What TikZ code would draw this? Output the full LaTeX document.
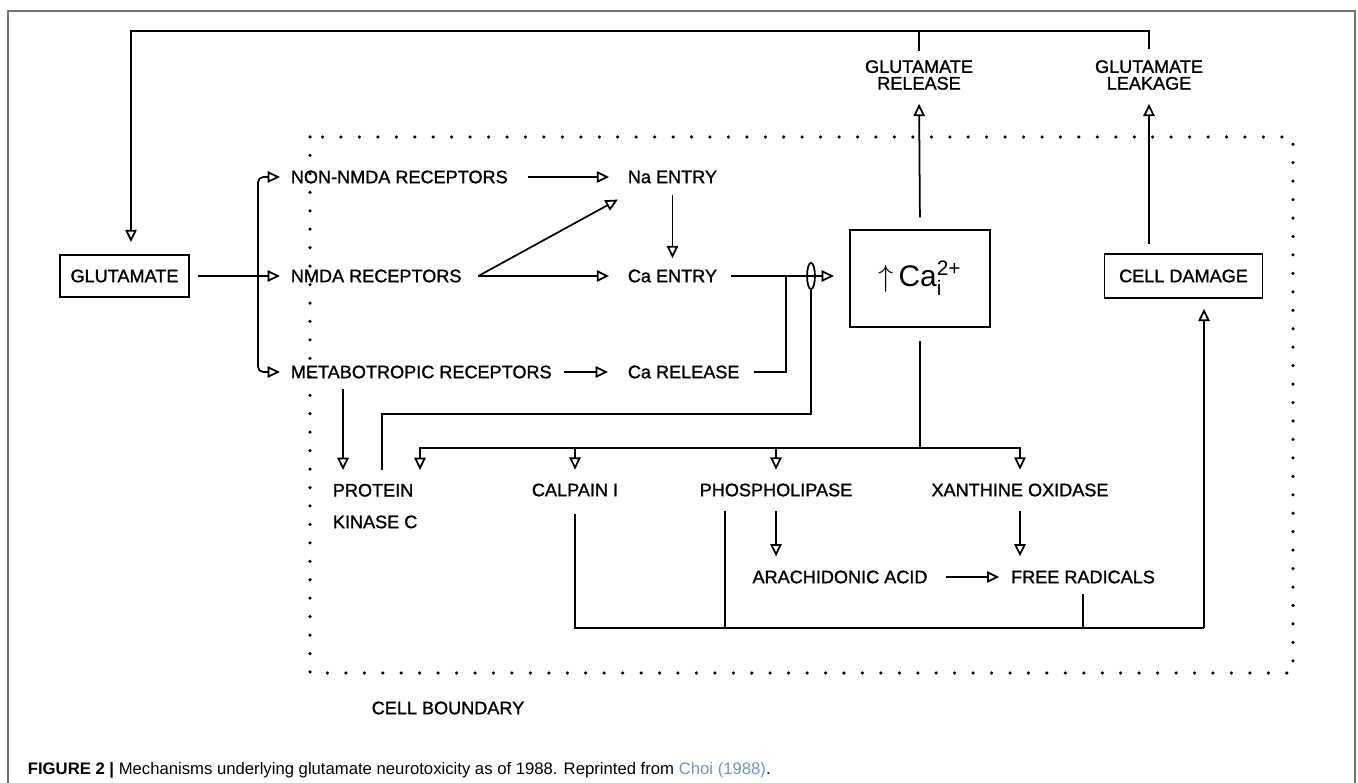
\documentclass[tikz,border=0pt]{standalone}
\usepackage{amsmath}
\usepackage{fontspec}
\usetikzlibrary{arrows.meta,calc,positioning,shapes.geometric}
\setmainfont{Liberation Sans}
\newfontfamily\plotfont[FakeBold=1.3]{Liberation Sans}
\definecolor{framegray}{gray}{0.45}
\definecolor{citeblue}{RGB}{110,150,195}

\begin{document}
\begin{tikzpicture}[x=0.02cm, y=-0.02cm, line width=1pt,
  lbl/.style={inner sep=0pt, font=\fontsize{10.3}{10}\plotfont},
  box/.style={draw, inner sep=0pt, font=\fontsize{10.3}{10}\plotfont},
  arr/.style={-{Triangle[open, length=7pt, width=6.5pt]}}]
\useasboundingbox (0,0) rectangle (1358,783);
% Rahmen und Zellgrenze
\draw[framegray, line width=0.8pt] (8,783) -- (8,11) -- (1355,11) -- (1355,783);
\draw[line width=2pt, line cap=round, dash pattern=on 0pt off 10.5pt] (310,137) rectangle (1293,673);
% Knoten
\node[box, minimum width=73pt, minimum height=24pt] (glut) at (124.5,276) {GLUTAMATE};
\node[lbl, anchor=west] (nonnmda) at (290,177) {NON-NMDA RECEPTORS};
\node[lbl, anchor=west] (nmda) at (290,276) {NMDA RECEPTORS};
\node[lbl, anchor=west] (metab) at (290,372) {METABOTROPIC RECEPTORS};
\node[lbl, anchor=west] (naentry) at (627,177) {Na ENTRY};
\node[lbl, anchor=west] (caentry) at (627,276) {Ca ENTRY};
\node[lbl, anchor=west] (carel) at (627,372) {Ca RELEASE};
\node[ellipse, draw, minimum width=4.5pt, minimum height=15pt, inner sep=0pt] (gate) at (811,276) {};
\node[box, minimum width=80pt, minimum height=55pt, font=\fontsize{17}{20}\selectfont] (ca) at (920,278.5) {$\uparrow$\,Ca$^{\text{2+}}_{\text{i}}$};
\node[box, minimum width=90pt, minimum height=25pt] (damage) at (1183.5,276) {CELL DAMAGE};
\node[lbl, align=center, font=\fontsize{10.3}{9.5}\plotfont] (rel) at (919,75) {GLUTAMATE\\RELEASE};
\node[lbl, align=center, font=\fontsize{10.3}{9.5}\plotfont] (leak) at (1149,75) {GLUTAMATE\\LEAKAGE};
\node[lbl, anchor=north west, align=left, font=\fontsize{10.3}{18}\plotfont] (pkc) at (332,483) {PROTEIN\\KINASE C};
\node[lbl] (calpain) at (575,490) {CALPAIN I};
\node[lbl] (phospho) at (776,490) {PHOSPHOLIPASE};
\node[lbl] (xanthine) at (1020,490) {XANTHINE OXIDASE};
\node[lbl] (arach) at (840,577) {ARACHIDONIC ACID};
\node[lbl] (radicals) at (1083,577) {FREE RADICALS};
\node[lbl] (bound) at (448,708) {CELL BOUNDARY};
\node[anchor=west, inner sep=0pt, font=\fontsize{9.5}{11}\selectfont] (cap) at (27,770)
  {\textbf{FIGURE 2 |} Mechanisms underlying glutamate neurotoxicity as of 1988. Reprinted from \textcolor{citeblue}{Choi (1988)}.};
% Rueckkopplung oben
\coordinate (topl) at (131,31);
\draw[arr, shorten <=6pt, shorten >=6.8pt] (leak.north) |- (topl) -- (topl |- glut.north);
\draw[shorten <=5pt] (rel.north) -- (rel.north |- topl);
\draw[arr, shorten <=6.8pt, shorten >=7.5pt] (ca.north) -- (rel.south);
\draw[arr, shorten <=5pt, shorten >=7.5pt] (leak.south |- damage.north) -- (leak.south);
% Rezeptoren
\coordinate (br) at (258,276);
\draw[arr, shorten <=5pt, shorten >=5.7pt] (glut) -- (nmda);
\draw[arr, rounded corners=3pt, shorten >=5.7pt] (br) |- (nonnmda.west);
\draw[arr, rounded corners=3pt, shorten >=5.7pt] (br) |- (metab.west);
\draw[arr, shorten <=11.3pt, shorten >=10.2pt] (nonnmda) -- (naentry);
\coordinate (nmdaout) at ($(nmda.east)+(16,0)$);
\draw[arr, shorten >=10.2pt] (nmdaout) -- (caentry.west);
\draw[arr, shorten >=4pt] (nmdaout) -- ($(naentry.south west)+(-3,12)$);
\draw[arr, shorten <=6pt, shorten >=6pt] (naentry) -- (caentry);
\draw[arr, shorten <=6.8pt, shorten >=10.8pt] (metab) -- (carel);
% Ca-Einstrom
\coordinate (join) at (786,276);
\draw[arr, shorten <=7.4pt, shorten >=8.5pt] (caentry.east) -- (caentry.east -| ca.west);
\draw[shorten <=7.9pt] (carel.east) -| (join);
\coordinate (pkcin) at ($(pkc.north west)+(50,-13)$);
\draw (gate.south) -- ++(0,124) -| (pkcin);
\coordinate (m1) at ($(metab.south west)+(53,0)$);
\draw[arr, shorten <=5.4pt, shorten >=7.4pt] (m1) -- (m1 |- pkc.north);
% Verteilung von Ca
\coordinate (bus) at ($(ca.south)+(0,120)$);
\draw[shorten <=7.4pt] (ca.south) -- (bus);
\draw[arr, shorten >=7.4pt] (bus) -| ($(pkc.north west)+(88,0)$);
\foreach \n in {calpain, phospho, xanthine}
  \draw[arr, shorten >=7.4pt] (bus) -| (\n.north);
\draw[arr, shorten <=7.6pt, shorten >=7.6pt] (phospho.south) -- (phospho.south |- arach.north);
\draw[arr, shorten <=7.6pt, shorten >=7.6pt] (xanthine.south) -- (xanthine.south |- radicals.north);
\draw[arr, shorten <=10.2pt, shorten >=6.2pt] (arach) -- (radicals);
% Zellschaden
\coordinate (coll) at ($(damage.south)+(20.5,329)$);
\draw[shorten <=9.4pt] (calpain.south) |- (coll);
\draw[arr, shorten >=5.7pt] (coll) -- (coll |- damage.south);
\coordinate (p1) at ($(phospho.south west)+(26,0)$);
\draw[shorten <=7.6pt] (p1) -- (p1 |- coll);
\draw[shorten <=5.4pt] (radicals.south) -- (radicals.south |- coll);
\end{tikzpicture}
\end{document}
